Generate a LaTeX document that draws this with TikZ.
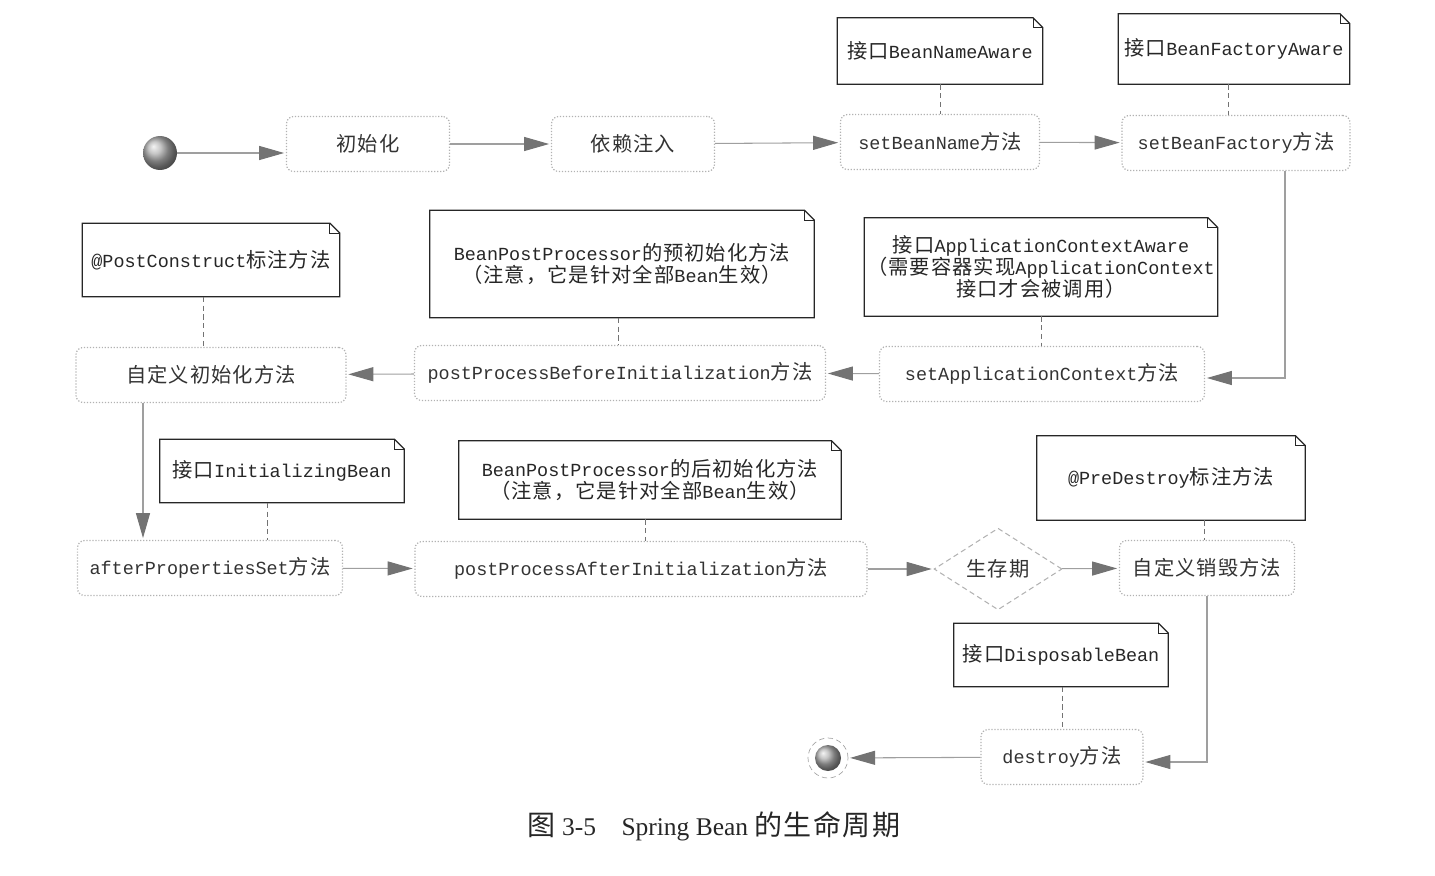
\documentclass[tikz,border=0pt]{standalone}
\usepackage{fontspec}
\setmainfont{Liberation Serif}
\newfontfamily\cjk[Scale=1.1,LetterSpace=5]{Noto Sans CJK SC}
\newfontfamily\mono{Liberation Mono}
\newcommand\zh[1]{{\cjk #1}}
\usetikzlibrary{arrows.meta,shapes.geometric}

\tikzset{
  act/.style={draw=gray!60, densely dotted, line width=0.7pt, rounded corners=4pt, inner sep=0pt, minimum height=1.1cm, text=black!80},
  memo/.style={inner sep=0pt, align=center, text=black!85},
  memoline/.style={draw=black!85, line width=0.7pt},
  life/.style={diamond, draw=gray!60, densely dashed, line width=0.6pt, inner sep=0pt, minimum width=2.56cm, minimum height=1.6cm, text=black!80},
  flow/.style={draw=gray!75, line width=0.6pt, -{Triangle[length=0.5cm,width=0.28cm,color=black!55]}, shorten >=1pt},
  tie/.style={draw=black!55, densely dashed, line width=0.5pt},
}

\begin{document}
\begin{tikzpicture}[x=0.02cm, y=-0.02cm, font=\mono\fontsize{10.5}{12.5}\selectfont]

\useasboundingbox (0,0) rectangle (1435,875);

\node[circle, shade, ball color=gray!60, minimum size=0.68cm, inner sep=0pt] (start) at (160,153) {};
\node[act, minimum width=3.26cm] (init) at (368,144) {\zh{初始化}};
\node[act, minimum width=3.26cm] (dep) at (633,144) {\zh{依赖注入}};
\node[act, minimum width=3.98cm] (setName) at (940,142) {setBeanName\zh{方法}};
\node[act, minimum width=4.56cm] (setFactory) at (1236,143) {setBeanFactory\zh{方法}};

\node[memo, minimum width=4.1cm, minimum height=1.32cm] (nName) at (940,51) {\zh{接口}BeanNameAware};
\node[memo, minimum width=4.62cm, minimum height=1.4cm] (nFactory) at (1234,49) {\zh{接口}BeanFactoryAware};

\node[act, minimum width=5.4cm] (custInit) at (211,375) {\zh{自定义初始化方法}};
\node[act, minimum width=8.22cm] (before) at (620,373) {postProcessBeforeInitialization\zh{方法}};
\node[act, minimum width=6.5cm] (setCtx) at (1042,374) {setApplicationContext\zh{方法}};

\node[memo, minimum width=5.14cm, minimum height=1.46cm] (nPost) at (211,260) {@PostConstruct\zh{标注方法}};
\node[memo, minimum width=7.68cm, minimum height=2.14cm] (nBefore) at (622,264) {BeanPostProcessor\zh{的预初始化方法}\\\zh{（注意，它是针对全部}Bean\zh{生效）}};
\node[memo, minimum width=7.06cm, minimum height=1.96cm] (nCtx) at (1041,267) {\zh{接口}ApplicationContextAware\\\zh{（需要容器实现}ApplicationContext\\\zh{接口才会被调用）}};

\node[act, minimum width=5.3cm] (afterProps) at (210,568) {afterPropertiesSet\zh{方法}};
\node[act, minimum width=9.04cm] (after) at (641,569) {postProcessAfterInitialization\zh{方法}};
\node[life] (life) at (998,569) {\zh{生存期}};
\node[act, minimum width=3.5cm] (custDestroy) at (1207,568) {\zh{自定义销毁方法}};

\node[memo, minimum width=4.88cm, minimum height=1.26cm] (nInit) at (282,471) {\zh{接口}InitializingBean};
\node[memo, minimum width=7.64cm, minimum height=1.56cm] (nAfter) at (650,480) {BeanPostProcessor\zh{的后初始化方法}\\\zh{（注意，它是针对全部}Bean\zh{生效）}};
\node[memo, minimum width=5.36cm, minimum height=1.68cm] (nPre) at (1171,478) {@PreDestroy\zh{标注方法}};

\node[memo, minimum width=4.28cm, minimum height=1.26cm] (nDisp) at (1061,655) {\zh{接口}DisposableBean};
\node[act, minimum width=3.24cm] (destroy) at (1062,757) {destroy\zh{方法}};
\node[circle, draw=gray!70, densely dashed, minimum size=0.8cm, inner sep=0pt] (fin) at (828,758) {};
\node[circle, shade, ball color=gray!60, minimum size=0.52cm, inner sep=0pt] (finDot) at (fin) {};

\node[font=\rmfamily\fontsize{14.5}{16}\selectfont, text=black!85] (caption) at (714,826) {\zh{图} 3-5\quad Spring Bean \zh{的生命周期}};

\foreach \n in {nName,nFactory,nPost,nBefore,nCtx,nInit,nAfter,nPre,nDisp} {
  \draw[memoline] (\n.south west) -- (\n.south east) -- ([yshift=-0.2cm]\n.north east) -- ([xshift=-0.2cm]\n.north east) -- (\n.north west) -- cycle;
  \draw[memoline, line width=0.4pt] ([xshift=-0.2cm]\n.north east) |- ([yshift=-0.2cm]\n.north east);
}

\draw[flow] (start) -- (start -| init.west);
\draw[flow] (init) -- (dep);
\draw[flow] (dep) -- (setName);
\draw[flow] (setName) -- (setFactory);
\draw[flow] (1285,0 |- setFactory.south) |- (setCtx.east |- 0,378);
\draw[flow] (setCtx) -- (before);
\draw[flow] (before) -- (custInit);
\draw[flow] (143,0 |- custInit.south) -- (143,0 |- afterProps.north);
\draw[flow] (afterProps) -- (after);
\draw[flow] (after) -- (life);
\draw[flow] (life) -- (custDestroy);
\draw[flow] (custDestroy) |- (destroy.east |- 0,762);
\draw[flow] (destroy) -- (fin);

\draw[tie] (940,0 |- nName.south) -- (940,0 |- setName.north);
\draw[tie] (1228,0 |- nFactory.south) -- (1228,0 |- setFactory.north);
\draw[tie] (203,0 |- nPost.south) -- (203,0 |- custInit.north);
\draw[tie] (618,0 |- nBefore.south) -- (618,0 |- before.north);
\draw[tie] (1041,0 |- nCtx.south) -- (1041,0 |- setCtx.north);
\draw[tie] (267,0 |- nInit.south) -- (267,0 |- afterProps.north);
\draw[tie] (645,0 |- nAfter.south) -- (645,0 |- after.north);
\draw[tie] (1204,0 |- nPre.south) -- (1204,0 |- custDestroy.north);
\draw[tie] (1062,0 |- nDisp.south) -- (1062,0 |- destroy.north);

\end{tikzpicture}
\end{document}
